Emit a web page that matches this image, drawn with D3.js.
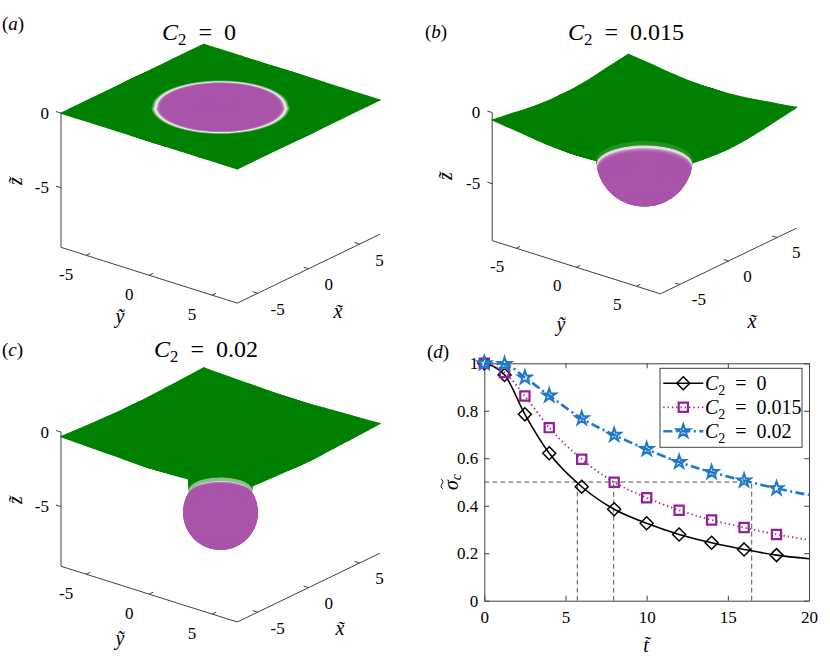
<!DOCTYPE html>
<html>
<head>
<meta charset="utf-8">
<script src="https://cdn.jsdelivr.net/npm/d3@7/dist/d3.min.js"></script>
<style>
  body { margin: 0; background: #fff; }
  text { font-family: "Liberation Serif", "DejaVu Serif", serif; fill: #000; }
</style>
</head>
<body>
<svg id="fig" width="830" height="662" font-family="Liberation Serif"></svg>
<script>
// ---- panel (d): sigma_c against t ----
const tMarks = [0, 1.25, 2.5, 4, 6, 8, 10, 12, 14, 16, 18]
const tEnd = 20
const sigmaC2_0 = [1.0, 0.951, 0.785, 0.621, 0.480, 0.385, 0.326, 0.279, 0.244, 0.216, 0.192]
const sigmaC2_0015 = [1.0, 0.961, 0.862, 0.729, 0.596, 0.499, 0.434, 0.381, 0.340, 0.308, 0.279]
const sigmaC2_002 = [1.0, 0.996, 0.940, 0.864, 0.768, 0.698, 0.638, 0.584, 0.541, 0.506, 0.473]
const sigmaAtEnd = [0.177, 0.256, 0.445]
const c2Values = ["0", "0.015", "0.02"]
const halfLevel = 0.5
const halfTimes = [5.73, 7.97, 16.47]
const xTicksD = [0, 5, 10, 15, 20]
const yTicksD = [0, 0.2, 0.4, 0.6, 0.8, 1]

// ---- panels (a)-(c): interface and drop ----
const contactR = [4.0, 3.05, 1.91]
const contactZ = [0, -4.2, -4.58]
const dropRadius = [0, 3.1, 2.28]
const dropCenterZ = [0, -3.64, -5.83]
const meniscusR = [
  [0, 10],
  [3.05, 3.08, 3.15, 3.3, 3.6, 4.1, 4.8, 5.8, 7, 8.5, 10],
  [1.91, 1.94, 2.0, 2.15, 2.45, 2.9, 3.6, 4.6, 6, 7.5, 10]
]
const meniscusZ = [
  [0, 0],
  [-4.2, -3.8, -3.45, -3.05, -2.65, -2.25, -1.85, -1.45, -1.1, -0.75, -0.5],
  [-4.58, -3.95, -3.4, -2.8, -2.2, -1.7, -1.3, -0.95, -0.65, -0.45, -0.3]
]
const ticks3d = [-5, 0, 5]
const zTicks3d = [0, -5]
const panelTags = ["a", "b", "c", "d"]

const svg = d3.select("#fig")
const axisGray = "#404040"
const green = "#008000", pink = "#a955a9"

// layout of the four panels
const layout3d = [
  { ox: 220.5, oy: 106.6, s: 16.2, title: [199, 40], tag: [2, 30], zLab: [15, 181], yLab: [120, 316], xLab: [338, 311], glowOut: 0.28, glowIn: 0.28 },
  { ox: 644.4, oy: 106.3, s: 15.46, title: [626, 40], tag: [425, 38], zLab: [445, 176], yLab: [561, 324], xLab: [752, 321], glowOut: 0.3, glowIn: 0.32 },
  { ox: 220.5, oy: 425.5, s: 16.2, title: [206, 357], tag: [2, 356], zLab: [15, 500], yLab: [120, 638], xLab: [340, 628], glowOut: 0.25, glowIn: 0.25 }
]

function c2Text(sel, value, size) {
  sel.attr("font-size", size)
  sel.append("tspan").attr("font-style", "italic").text("C")
  sel.append("tspan").attr("font-size", size * 0.7).attr("dy", size * 0.22).text("2")
  sel.append("tspan").attr("dy", -size * 0.22).text("\u2002=\u2002" + value)
}

function tagText(sel, letter) {
  sel.attr("font-size", 19)
  sel.append("tspan").text("(")
  sel.append("tspan").attr("font-style", "italic").text(letter)
  sel.append("tspan").text(")")
}

function varLabel(parent, x, y, angle, label) {
  return parent.append("text").attr("transform", `translate(${x},${y}) rotate(${angle})`)
    .attr("text-anchor", "middle").attr("dominant-baseline", "central")
    .attr("font-size", 20).attr("font-style", "italic").text(label)
}

// ---- 3D view (orthographic, camera slightly below the interface) ----
const AZ = 51 * Math.PI / 180, EL = 23 * Math.PI / 180
const cA = Math.cos(AZ), sA = Math.sin(AZ), cE = Math.cos(EL), sE = Math.sin(EL)
const view = [-cE * sA, cE * cA, sE]
const LIM = 7, ZLOW = -9

function makeProj(o) {
  return {
    xy: p => [o.ox + o.s * (p[0] * cA + p[1] * sA), o.oy - o.s * (cE * p[2] + sE * (p[0] * sA - p[1] * cA))],
    depth: p => p[0] * view[0] + p[1] * view[1] + p[2] * view[2]
  }
}

const mean3 = q => [0, 1, 2].map(c => d3.mean(q, p => p[c]))

function drawPanel3d(k) {
  const o = layout3d[k], P = makeProj(o)
  const g = svg.append("g").attr("class", "panel3d")

  // axis lines, ticks and labels
  const ax = g.append("g").attr("stroke", axisGray).attr("stroke-width", 1).attr("fill", "none")
  const seg = (a, b) => ax.append("path").attr("d", d3.line()([P.xy(a), P.xy(b)]))
  seg([-LIM, -LIM, 0], [-LIM, -LIM, ZLOW])
  seg([-LIM, -LIM, ZLOW], [-LIM, LIM, ZLOW])
  seg([-LIM, LIM, ZLOW], [LIM, LIM, ZLOW])
  const f = o.s / 16.2
  ticks3d.forEach(t => {
    seg([-LIM, t, ZLOW], [-LIM + 0.4, t, ZLOW])
    seg([t, LIM, ZLOW], [t, LIM - 0.4, ZLOW])
    const py = P.xy([-LIM, t, ZLOW]), px = P.xy([t, LIM, ZLOW])
    g.append("text").attr("x", py[0] - 20 * f).attr("y", py[1] + 19 * f).attr("text-anchor", "middle")
      .attr("dominant-baseline", "central").attr("font-size", 17).text(String(t))
    g.append("text").attr("x", px[0] + 20 * f).attr("y", px[1] + 16 * f).attr("text-anchor", "middle")
      .attr("dominant-baseline", "central").attr("font-size", 17).text(String(t))
  })
  zTicks3d.forEach(t => {
    seg([-LIM, -LIM, t], [-LIM, -LIM - 0.4, t])
    const pz = P.xy([-LIM, -LIM, t])
    g.append("text").attr("x", pz[0] - 12).attr("y", pz[1]).attr("text-anchor", "end")
      .attr("dominant-baseline", "central").attr("font-size", 17).text(String(t))
  })
  varLabel(g, o.zLab[0], o.zLab[1], -90, "z\u0303")
  varLabel(g, o.yLab[0], o.yLab[1], 0, "\u1ef9")
  varLabel(g, o.xLab[0], o.xLab[1], 0, "x\u0303")

  c2Text(g.append("text").attr("x", o.title[0]).attr("y", o.title[1]).attr("text-anchor", "middle"), c2Values[k], 24)
  tagText(g.append("text").attr("x", o.tag[0]).attr("y", o.tag[1]), panelTags[k])

  // interface surface: polar mesh over the square, fine near the contact line
  const zOf = d3.scaleLinear().domain(meniscusR[k]).range(meniscusZ[k]).clamp(true)
  const surfCol = d3.scaleLinear().domain([0, o.glowOut]).range(["#ffffff", green]).clamp(true)
  const dropCol = d3.scaleLinear().domain([0, o.glowIn * 0.4, o.glowIn]).range(["#ffffff", "#c07fc0", pink]).clamp(true)
  const nTh = 72
  const thetas = d3.range(nTh + 1).map(j => j * 2 * Math.PI / nTh)
  const rIn = k === 0 ? 0 : contactR[k]
  const inner = k === 0
    ? [...d3.range(0, 3.5, 0.5), ...d3.range(3.5, 4.5, 0.04), ...d3.range(4.5, 7, 0.5), 7]
    : d3.range(31).map(i => rIn + (LIM - rIn) * Math.pow(i / 30, 1.8))
  const outer = [0.25, 0.5, 0.75, 1]
  const nR = inner.length + outer.length
  const rAt = (i, th) => {
    if (i < inner.length) return inner[i]
    const rm = LIM / Math.max(Math.abs(Math.cos(th)), Math.abs(Math.sin(th)))
    return LIM + (rm - LIM) * outer[i - inner.length]
  }
  const arc = [0]
  for (let i = 1; i < inner.length; i++)
    arc.push(arc[i - 1] + Math.hypot(inner[i] - inner[i - 1], zOf(inner[i]) - zOf(inner[i - 1])))
  const nodes = d3.range(nR).map(i => thetas.map(th => {
    const r = rAt(i, th)
    return [r * Math.cos(th), r * Math.sin(th), zOf(r)]
  }))
  const faces = []
  for (let i = 0; i < nR - 1; i++) {
    for (let j = 0; j < nTh; j++) {
      const q = [nodes[i][j], nodes[i + 1][j], nodes[i + 1][j + 1], nodes[i][j + 1]]
      let fill = green
      if (i + 1 < inner.length) {
        if (k === 0) {
          const rm = (inner[i] + inner[i + 1]) / 2
          fill = rm < contactR[0] ? dropCol(contactR[0] - rm) : surfCol(rm - contactR[0])
        } else fill = surfCol((arc[i] + arc[i + 1]) / 2)
      }
      faces.push({ q, fill, depth: P.depth(mean3(q)) })
    }
  }

  // drop: spherical cap below the contact line
  if (k > 0) {
    const R = dropRadius[k], zc = dropCenterZ[k]
    const phiMax = Math.acos(Math.max(-1, Math.min(1, (zc - contactZ[k]) / R)))
    const nP = 26, dMax = R * phiMax
    const dNodes = d3.range(nP + 1).map(i => dMax * Math.pow(i / nP, 1.6))
    const sp = dNodes.map(d => thetas.map(th => {
      const ph = phiMax - d / R
      return [R * Math.sin(ph) * Math.cos(th), R * Math.sin(ph) * Math.sin(th), zc - R * Math.cos(ph)]
    }))
    for (let i = 0; i < nP; i++) {
      for (let j = 0; j < nTh; j++) {
        const q = [sp[i][j], sp[i + 1][j], sp[i + 1][j + 1], sp[i][j + 1]]
        const c = mean3(q)
        const n = [c[0], c[1], c[2] - zc]
        if (n[0] * view[0] + n[1] * view[1] + n[2] * view[2] > 0) continue
        faces.push({ q, fill: dropCol((dNodes[i] + dNodes[i + 1]) / 2), depth: P.depth(c) })
      }
    }
  }

  faces.sort((a, b) => b.depth - a.depth)
  g.append("g").selectAll("path").data(faces).join("path")
    .attr("d", d => d3.line()(d.q.map(P.xy)) + "Z")
    .attr("fill", d => d.fill).attr("stroke", d => d.fill)
    .attr("stroke-width", 1.1).attr("stroke-linejoin", "round")
}

[0, 1, 2].forEach(drawPanel3d)

// ---- panel (d) ----
const xD = d3.scaleLinear().domain([0, 20]).range([484.3, 809])
const yD = d3.scaleLinear().domain([0, 1]).range([600.7, 363.3])
const gD = svg.append("g")

const guide = gD.append("g").attr("stroke", "#555").attr("stroke-width", 1)
  .attr("stroke-dasharray", "5,3").attr("fill", "none")
guide.append("path").attr("d", d3.line()([[xD(0), yD(halfLevel)], [xD(halfTimes[2]), yD(halfLevel)]]))
halfTimes.forEach(t => guide.append("path").attr("d", d3.line()([[xD(t), yD(0)], [xD(t), yD(halfLevel)]])))

const axB = gD.append("g").attr("transform", `translate(0,${yD(0)})`)
  .call(d3.axisBottom(xD).tickValues(xTicksD).tickSizeInner(-5).tickSizeOuter(0).tickPadding(10).tickFormat(d3.format("")))
const axL = gD.append("g").attr("transform", `translate(${xD(0)},0)`)
  .call(d3.axisLeft(yD).tickValues(yTicksD).tickSizeInner(-5).tickSizeOuter(0).tickPadding(6).tickFormat(d3.format("~g")))
const axT = gD.append("g").attr("transform", `translate(0,${yD(1)})`)
  .call(d3.axisTop(xD).tickValues(xTicksD).tickSizeInner(-5).tickSizeOuter(0).tickFormat(() => ""))
const axR = gD.append("g").attr("transform", `translate(${xD(20)},0)`)
  .call(d3.axisRight(yD).tickValues(yTicksD).tickSizeInner(-5).tickSizeOuter(0).tickFormat(() => ""))
;[axB, axL, axT, axR].forEach(a => a.attr("color", axisGray).attr("font-size", 17).attr("font-family", null))

const series = [
  { vals: sigmaC2_0, end: sigmaAtEnd[0], color: "#000000", dash: null, width: 1.6, mark: "diamond" },
  { vals: sigmaC2_0015, end: sigmaAtEnd[1], color: "#951f95", dash: "1.3,3", width: 1.8, mark: "square" },
  { vals: sigmaC2_002, end: sigmaAtEnd[2], color: "#1f78c8", dash: "9,3.5,2,3.5", width: 2.6, mark: "star" }
]
const markPath = {
  diamond: "M0,-6.5L6.5,0L0,6.5L-6.5,0Z",
  square: d3.symbol(d3.symbolSquare, 85)(),
  star: d3.symbol(d3.symbolStar, 55)()
}
const markWidth = { diamond: 1.5, square: 2.2, star: 2 }
const curve = d3.line().x(d => xD(d[0])).y(d => yD(d[1])).curve(d3.curveMonotoneX)

series.forEach(s => {
  const pts = tMarks.map((t, i) => [t, s.vals[i]]).concat([[tEnd, s.end]])
  gD.append("path").attr("d", curve(pts)).attr("fill", "none").attr("stroke", s.color)
    .attr("stroke-width", s.width).attr("stroke-dasharray", s.dash)
  gD.append("g").selectAll("path").data(tMarks.map((t, i) => [t, s.vals[i]])).join("path")
    .attr("transform", d => `translate(${xD(d[0])},${yD(d[1])})`)
    .attr("d", markPath[s.mark]).attr("fill", "none").attr("stroke", s.color)
    .attr("stroke-width", markWidth[s.mark])
})

// legend
const lg = gD.append("g")
lg.append("rect").attr("x", 660).attr("y", 368.3).attr("width", 142).attr("height", 79)
  .attr("fill", "#fff").attr("stroke", axisGray).attr("stroke-width", 1)
series.forEach((s, i) => {
  const yy = 383.3 + i * 24
  lg.append("path").attr("d", d3.line()([[663.3, yy], [703.3, yy]])).attr("stroke", s.color)
    .attr("stroke-width", s.width).attr("stroke-dasharray", s.dash)
  lg.append("path").attr("transform", `translate(683.3,${yy})`).attr("d", markPath[s.mark])
    .attr("fill", "none").attr("stroke", s.color).attr("stroke-width", markWidth[s.mark])
  c2Text(lg.append("text").attr("x", 705).attr("y", yy + 7), c2Values[i], 20)
})

varLabel(gD, 646, 645, 0, "t\u0303")
// sigma_c label, rotated; the tilde over sigma is a small stroke
const yl = gD.append("g").attr("transform", "translate(451,482) rotate(-90)")
yl.append("text").attr("text-anchor", "middle").attr("dominant-baseline", "central")
  .attr("font-size", 20).attr("font-style", "italic")
  .call(t => t.append("tspan").text("\u03c3"))
  .call(t => t.append("tspan").attr("font-size", 14).attr("dy", 5).text("c"))
yl.append("path").attr("d", d3.line().curve(d3.curveBasis)([[-7, -8], [-5, -10.5], [-2, -9], [1, -7.5], [3, -10]]))
  .attr("fill", "none").attr("stroke", "#000").attr("stroke-width", 1)
tagText(gD.append("text").attr("x", 427).attr("y", 358), panelTags[3])
</script>
</body>
</html>
